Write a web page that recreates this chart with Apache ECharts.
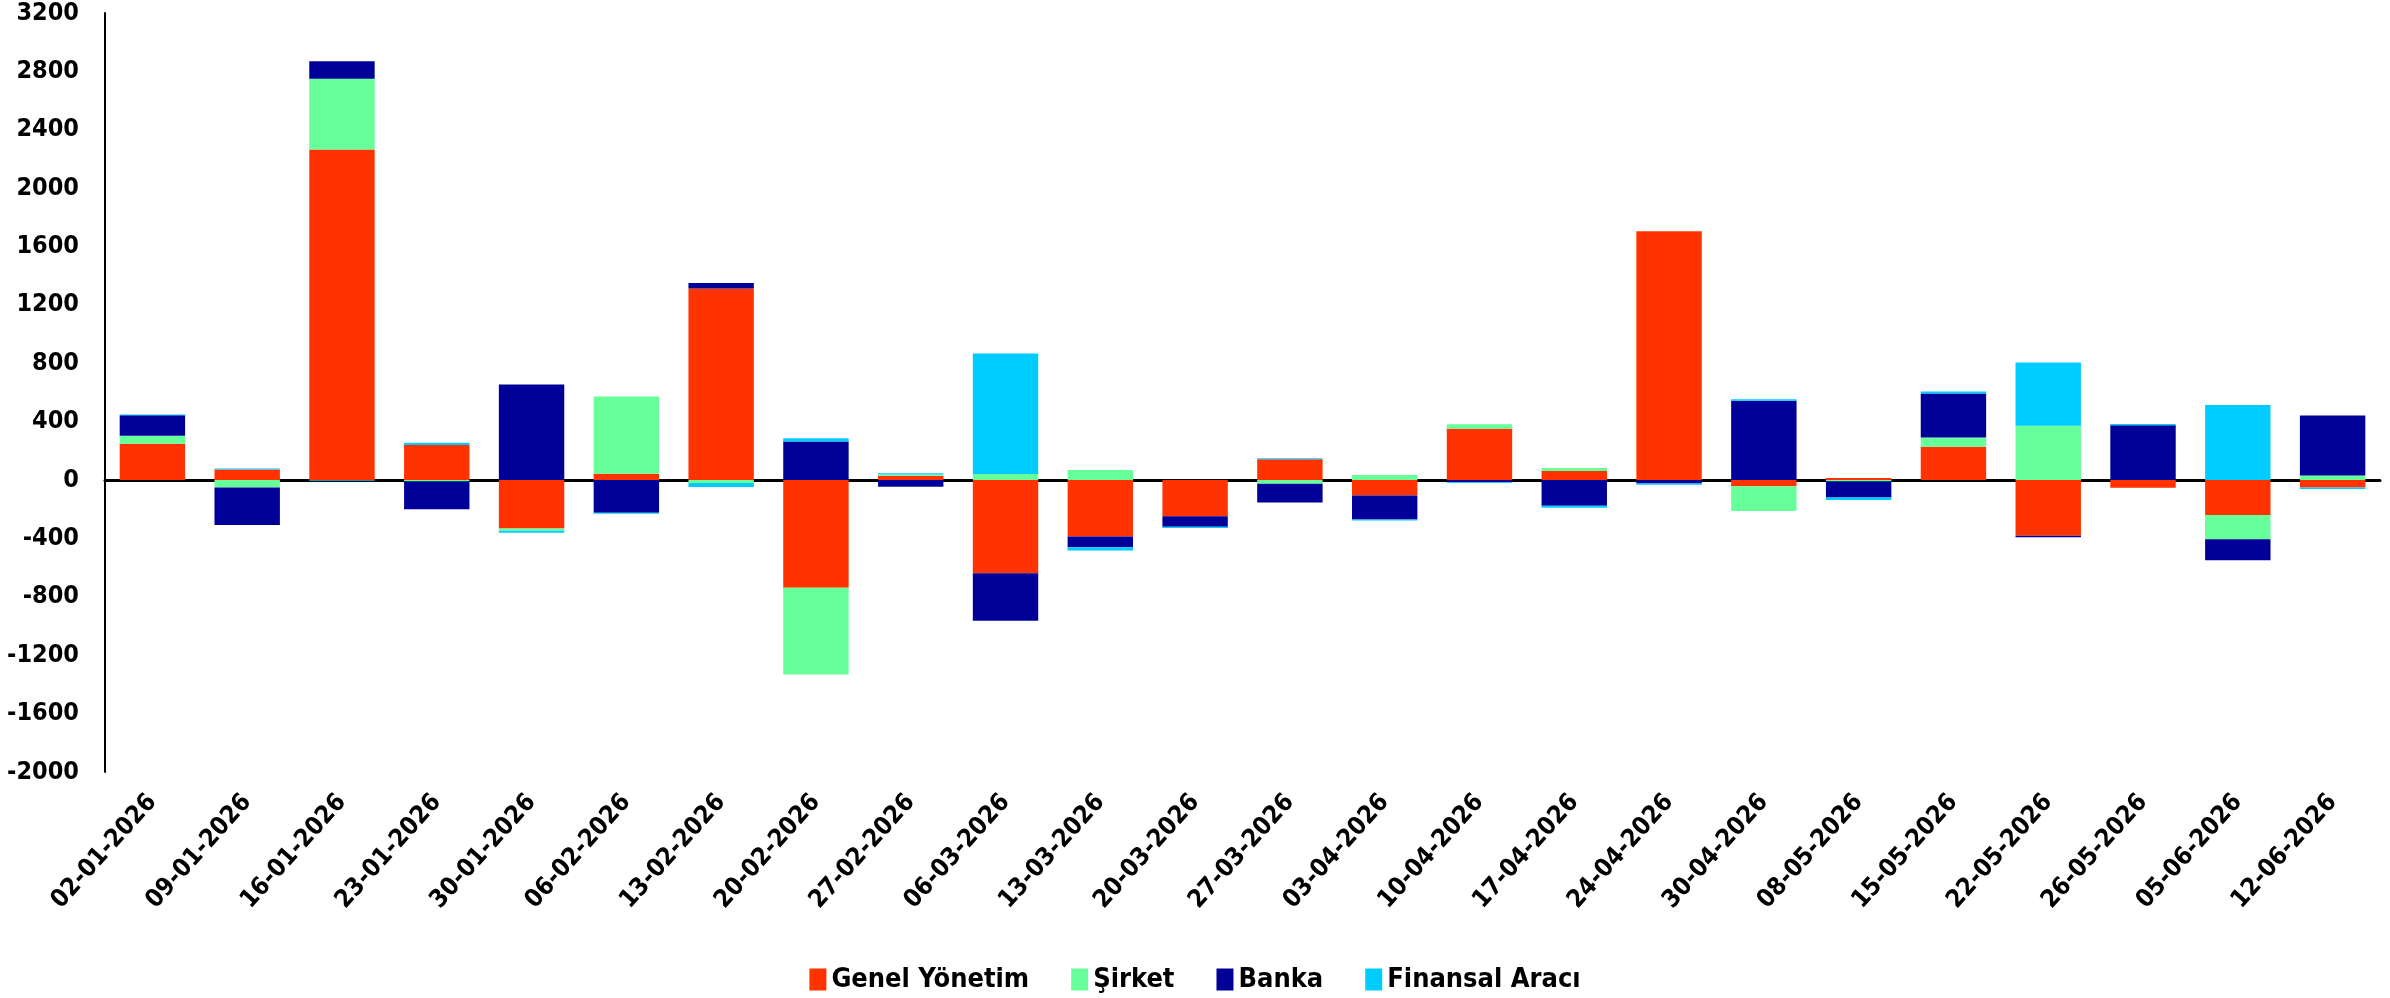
<!DOCTYPE html>
<html>
<head>
<meta charset="utf-8">
<script src="https://cdn.jsdelivr.net/npm/echarts@6/dist/echarts.min.js"></script>
<style>
  html, body { margin: 0; padding: 0; background: #fff; }
  #chart { width: 2390px; height: 998px; }
</style>
</head>
<body>
<div id="chart"></div>
<script>
// haftalik tarihler
const dates = ['02-01-2026', '09-01-2026', '16-01-2026', '23-01-2026', '30-01-2026', '06-02-2026',
  '13-02-2026', '20-02-2026', '27-02-2026', '06-03-2026', '13-03-2026', '20-03-2026',
  '27-03-2026', '03-04-2026', '10-04-2026', '17-04-2026', '24-04-2026', '30-04-2026',
  '08-05-2026', '15-05-2026', '22-05-2026', '26-05-2026', '05-06-2026', '12-06-2026']

const genelYonetim = [249, 73, 2265, 241, -331, 44, 1312, -738, 30, -638, -386, -247,
  142, -105, 351, 62, 1705, -43, 14, 229, -382, -53, -240, -50]
const sirket = [54, -50, 484, -10, -16, 528, -20, -594, 8, 41, 69, 0,
  -25, 34, 32, 20, 0, -169, -10, 62, 372, 0, -165, 32]
const banka = [141, -258, 121, -190, 655, -224, 38, 264, -46, -325, -75, -73,
  -128, -165, -15, -176, -23, 544, -110, 303, -9, 376, -144, 411]
const finansalAraci = [5, 7, -5, 14, -14, -7, -27, 23, 8, 827, -21, -9,
  7, -7, -5, -14, -9, 9, -16, 12, 433, 9, 514, -11]

const yTicks = { min: -2000, max: 3200, interval: 400 }

const narrow = '"Liberation Sans Narrow", "DejaVu Sans Condensed", sans-serif'

const chart = echarts.init(document.getElementById('chart'))

function bar (name, data, color) {
  return {
    name: name,
    type: 'bar',
    stack: 'toplam',
    barCategoryGap: '31%',
    itemStyle: { color: color },
    data: data,
    animation: false
  }
}

chart.setOption({
  animation: false,
  grid: {
    left: 105,
    right: 10,
    top: 13,
    bottom: 226,
    outerBoundsMode: 'none'
  },
  legend: {
    bottom: 0,
    left: 'center',
    icon: 'rect',
    itemWidth: 17,
    itemHeight: 22,
    itemGap: 42,
    textStyle: {
      fontFamily: narrow,
      fontWeight: 'bold',
      fontSize: 27,
      color: '#000'
    },
    data: ['Genel Yönetim', 'Şirket', 'Banka', 'Finansal Aracı']
  },
  xAxis: [{
    type: 'category',
    data: dates,
    axisLine: { show: false, onZero: false },
    axisTick: { show: false },
    axisLabel: {
      rotate: 48,
      margin: 26,
      interval: 0,
      fontFamily: narrow,
      fontWeight: 'bold',
      fontSize: 25,
      color: '#000'
    }
  }, {
    // sifir cizgisi
    type: 'category',
    data: dates,
    position: 'bottom',
    axisLine: { show: true, onZero: true, lineStyle: { color: '#000', width: 3 } },
    axisTick: { show: false },
    axisLabel: { show: false }
  }],
  yAxis: {
    type: 'value',
    min: yTicks.min,
    max: yTicks.max,
    interval: yTicks.interval,
    splitLine: { show: false },
    axisTick: { show: false },
    axisLine: { show: true, lineStyle: { color: '#000', width: 2 } },
    axisLabel: {
      margin: 26,
      formatter: function (v) { return String(v) },
      fontFamily: narrow,
      fontWeight: 'bold',
      fontSize: 25,
      color: '#000'
    }
  },
  series: [
    bar('Genel Yönetim', genelYonetim, '#FF3300'),
    bar('Şirket', sirket, '#66FF99'),
    bar('Banka', banka, '#000099'),
    bar('Finansal Aracı', finansalAraci, '#00CCFF')
  ]
})
</script>
</body>
</html>
